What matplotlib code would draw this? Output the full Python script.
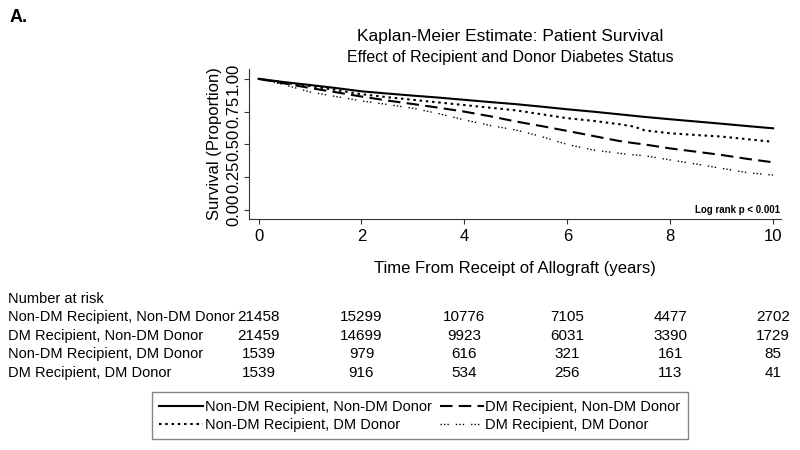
import numpy as np
import matplotlib
matplotlib.use("Agg")
import matplotlib.pyplot as plt
from matplotlib.lines import Line2D
from matplotlib.transforms import blended_transform_factory

plt.rcParams['font.family'] = ['Liberation Sans', 'DejaVu Sans']

# years since transplant (extra point at 7.3 for the step in the DM donor curve)
years = [0, 0.5, 1, 1.5, 2, 2.5, 3, 3.5, 4, 4.5, 5, 5.5, 6, 6.5, 7, 7.3, 7.5, 8, 8.5, 9, 9.5, 10]

# survival
surv_nondm_nondm = [1.0, 0.975, 0.953, 0.93, 0.905, 0.888, 0.872, 0.857, 0.84, 0.823, 0.807, 0.788,
                    0.768, 0.75, 0.73, 0.718, 0.71, 0.692, 0.675, 0.658, 0.64, 0.623]
surv_dm_nondm = [1.0, 0.965, 0.93, 0.898, 0.865, 0.835, 0.808, 0.78, 0.75, 0.715, 0.675, 0.64,
                 0.603, 0.565, 0.527, 0.51, 0.50, 0.47, 0.445, 0.42, 0.39, 0.364]
surv_nondm_dm = [1.0, 0.97, 0.945, 0.915, 0.883, 0.86, 0.84, 0.82, 0.80, 0.78, 0.76, 0.73,
                 0.70, 0.68, 0.655, 0.636, 0.608, 0.585, 0.572, 0.56, 0.54, 0.52]
surv_dm_dm = [1.0, 0.955, 0.9, 0.865, 0.832, 0.805, 0.776, 0.735, 0.687, 0.645, 0.61, 0.56,
              0.50, 0.458, 0.433, 0.42, 0.415, 0.382, 0.351, 0.318, 0.285, 0.267]

group_names = ["Non-DM Recipient, Non-DM Donor", "DM Recipient, Non-DM Donor",
               "Non-DM Recipient, DM Donor", "DM Recipient, DM Donor"]

# number at risk table
risk_years = [0, 2, 4, 6, 8, 10]
risk_nondm_nondm = [21458, 15299, 10776, 7105, 4477, 2702]
risk_dm_nondm = [21459, 14699, 9923, 6031, 3390, 1729]
risk_nondm_dm = [1539, 979, 616, 321, 161, 85]
risk_dm_dm = [1539, 916, 534, 256, 113, 41]

fig = plt.figure(figsize=(8, 4.5), dpi=100)
ax = fig.add_axes([0.311, 0.513, 0.665, 0.334])

styles = [
    dict(ls='-', lw=1.5),
    dict(ls=(0, (6, 3)), lw=1.5),
    dict(ls=(0, (1.2, 1.8)), lw=1.5),
    dict(ls=(0, (1, 1.5, 1, 1.5, 1, 5)), lw=1.0),
]
curves = [surv_nondm_nondm, surv_dm_nondm, surv_nondm_dm, surv_dm_dm]
for s, st in zip(curves, styles):
    ax.plot(years, s, color='black', **st)

ax.set_xlim(-0.19, 10.15)
ax.set_ylim(-0.069, 1.076)
ax.set_xticks([0, 2, 4, 6, 8, 10])
ax.set_yticks([0, 0.25, 0.5, 0.75, 1.0])
ax.set_yticklabels(["0.00", "0.25", "0.50", "0.75", "1.00"], rotation=90, va='center')
ax.tick_params(axis='both', labelsize=12, length=3.5, width=0.8, color='#333333')
ax.tick_params(axis='y', pad=2)
ax.spines['top'].set_visible(False)
ax.spines['right'].set_visible(False)
for sp in ['left', 'bottom']:
    ax.spines[sp].set_color('#333333')
ax.set_ylabel("Survival (Proportion)", fontsize=12, labelpad=3)
ax.set_xlabel("Time From Receipt of Allograft (years)", fontsize=12, labelpad=12)
ax.text(0.998, 0.025, "Log rank p < 0.001", transform=ax.transAxes, ha='right', va='bottom',
        fontsize=7, fontweight='bold')

fig.text(0.0125, 0.962, "A.", fontsize=13, fontweight='bold', va='center')
fig.text(0.6375, 0.92, "Kaplan-Meier Estimate: Patient Survival", fontsize=12.5, ha='center', va='center')
fig.text(0.6375, 0.873, "Effect of Recipient and Donor Diabetes Status", fontsize=11.5, ha='center', va='center')

# number at risk
fig.text(0.01, 1 - 299 / 450, "Number at risk", fontsize=10.5, va='center')
tr = blended_transform_factory(ax.transData, fig.transFigure)
row_y = [317, 336, 354, 373]
risks = [risk_nondm_nondm, risk_dm_nondm, risk_nondm_dm, risk_dm_dm]
for name, yy, vals in zip(group_names, row_y, risks):
    fig.text(0.01, 1 - yy / 450, name, fontsize=10.5, va='center')
    for x, v in zip(risk_years, vals):
        ax.text(x, 1 - yy / 450, str(v), transform=tr, fontsize=11, ha='center', va='center')

handles = [Line2D([], [], color='black', **st) for st in styles]
order = [0, 2, 1, 3]
leg = fig.legend([handles[i] for i in order], [group_names[i] for i in order], ncol=2,
                 loc='center', bbox_to_anchor=(0.525, 0.076), fontsize=10.5, frameon=True,
                 fancybox=False, handlelength=3.0, handletextpad=0.1, columnspacing=0.6,
                 labelspacing=0.3, borderpad=0.5)
leg.get_frame().set_edgecolor('#666666')
leg.get_frame().set_linewidth(1.0)

fig.savefig("out.png", dpi=100)
